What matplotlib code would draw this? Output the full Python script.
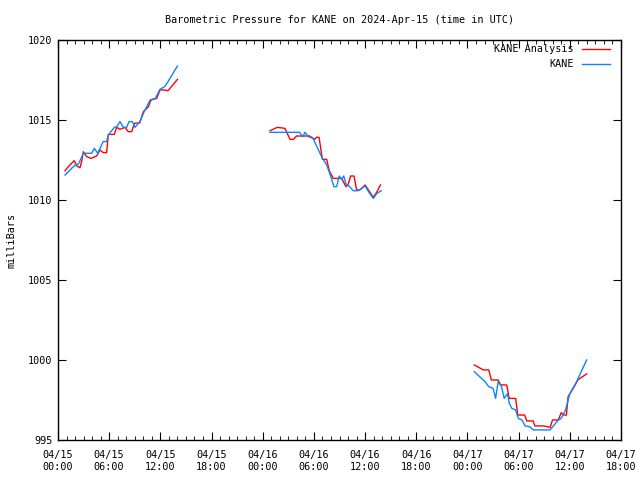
import matplotlib
matplotlib.use("Agg")
import matplotlib.pyplot as plt
import numpy as np

# hours since 2024-04-15 00:00 UTC
kane_t = [0.82, 2.0, 2.4, 2.97, 3.95, 4.26, 4.65, 5.3, 5.7, 5.9, 6.6, 6.88, 7.27, 7.66, 8.05,
          8.32, 8.71, 9.03, 9.6, 10.1, 10.8, 11.4, 11.96, 12.5, 12.9, 14.0,
          None,
          24.85, 28.3, 28.7, 28.95, 29.35, 29.9, 30.9, 31.5, 31.96, 32.35, 32.67, 32.97, 33.25,
          33.5, 33.76, 34.2, 34.6, 35.2, 36.0, 36.4, 36.96, 37.4, 37.9,
          None,
          48.8, 50.06, 50.5, 51.0, 51.3, 51.6, 52.0, 52.3, 52.7, 52.9, 53.2, 53.65, 53.96, 54.4,
          54.75, 55.3, 55.7, 57.7, 58.07, 58.65, 59.0, 59.5, 60.0, 60.8, 61.97]
kane_p = [1011.56, 1012.19, 1012.25, 1012.92, 1012.92, 1013.23, 1012.92, 1013.65, 1013.65,
          1014.06, 1014.54, 1014.58, 1014.9, 1014.54, 1014.54, 1014.9, 1014.9, 1014.54, 1014.9,
          1015.52, 1016.25, 1016.35, 1016.92, 1017.08, 1017.4, 1018.37,
          None,
          1014.23, 1014.23, 1013.96, 1014.23, 1013.96, 1013.85, 1012.71, 1012.19, 1011.5,
          1010.83, 1010.83, 1011.5, 1011.29, 1011.5, 1011.0, 1010.83, 1010.58, 1010.58,
          1010.88, 1010.52, 1010.1, 1010.42, 1010.58,
          None,
          999.27, 998.65, 998.33, 998.23, 997.6, 998.65, 998.33, 997.6, 997.9, 997.29, 996.98,
          996.88, 996.35, 996.25, 995.88, 995.83, 995.63, 995.63, 995.88, 996.25, 996.35,
          996.88, 997.9, 998.65, 1000.0]

anal_t = [0.82, 1.4, 1.9, 2.2, 2.58, 2.77, 2.97, 3.36, 3.87, 4.53, 4.92, 5.3, 5.7, 5.9, 6.6,
          6.88, 7.27, 7.85, 8.25, 8.64, 8.95, 9.6, 10.0, 10.6, 10.9, 11.57, 11.96, 12.35, 12.9, 14.0,
          None,
          24.85, 25.7, 26.6, 27.2, 27.6, 27.97, 29.5, 30.1, 30.3, 30.6, 31.0, 31.5, 31.8, 32.27,
          33.25, 33.76, 34.0, 34.3, 34.7, 35.0, 35.4, 36.0, 36.96, 37.4, 37.8,
          None,
          48.8, 49.86, 50.5, 50.8, 51.6, 51.9, 52.6, 52.9, 53.65, 53.9, 54.7, 54.96, 55.7, 55.9,
          56.9, 57.7, 57.97, 58.65, 59.0, 59.3, 59.6, 59.8, 60.4, 60.97, 61.97]
anal_p = [1011.83, 1012.19, 1012.46, 1012.13, 1012.02, 1012.4, 1013.02, 1012.71, 1012.6,
          1012.75, 1013.13, 1012.96, 1012.96, 1014.1, 1014.1, 1014.54, 1014.42, 1014.54,
          1014.27, 1014.27, 1014.79, 1014.83, 1015.52, 1015.83, 1016.25, 1016.35, 1016.88,
          1016.88, 1016.83, 1017.54,
          None,
          1014.33, 1014.54, 1014.48, 1013.79, 1013.79, 1014.0, 1014.0, 1013.79, 1013.92,
          1013.92, 1012.54, 1012.54, 1011.83, 1011.35, 1011.35, 1010.83, 1010.94, 1011.5,
          1011.5, 1010.63, 1010.63, 1010.94, 1010.17, 1010.52, 1010.94,
          None,
          999.69, 999.38, 999.38, 998.75, 998.75, 998.44, 998.44, 997.6, 997.6, 996.56, 996.56,
          996.19, 996.19, 995.88, 995.88, 995.79, 996.25, 996.25, 996.71, 996.56, 996.56,
          997.71, 998.23, 998.77, 999.13]

tick_hours = list(range(0, 67, 6))
tick_labels = ["04/15\n00:00", "04/15\n06:00", "04/15\n12:00", "04/15\n18:00",
               "04/16\n00:00", "04/16\n06:00", "04/16\n12:00", "04/16\n18:00",
               "04/17\n00:00", "04/17\n06:00", "04/17\n12:00", "04/17\n18:00"]

def to_arr(v):
    return np.array([np.nan if x is None else x for x in v], dtype=float)

plt.rcParams['font.family'] = 'DejaVu Sans Mono'
plt.rcParams['font.size'] = 7.3

fig = plt.figure(figsize=(6.4, 4.8), dpi=100)
ax = fig.add_axes([58/640, 40/480, 563/640, 400/480])

ax.plot(to_arr(anal_t), to_arr(anal_p), color='#ff0000', lw=1, label='KANE Analysis')
ax.plot(to_arr(kane_t), to_arr(kane_p), color='#0a85ff', lw=1, label='KANE')

ax.set_xlim(0, 66)
ax.set_ylim(995, 1020)
ax.set_xticks(tick_hours)
ax.set_xticklabels(tick_labels, linespacing=1.3)
ax.set_xticks(range(0, 67), minor=True)
ax.set_yticks([995, 1000, 1005, 1010, 1015, 1020])
ax.tick_params(which='both', direction='in', top=True, right=True, color='black')
ax.tick_params(which='major', length=6)
ax.tick_params(axis='x', which='major', pad=7)
ax.tick_params(axis='y', which='major', pad=4)
ax.tick_params(which='minor', length=3)
for s in ax.spines.values():
    s.set_linewidth(1)

ax.set_title("Barometric Pressure for KANE on 2024-Apr-15 (time in UTC)", fontsize=7.3, pad=12)
ax.set_ylabel("milliBars")
ax.yaxis.set_label_coords(-46/563, 0.5)
ax.yaxis.label.set_verticalalignment('center')

ax.legend(loc='upper right', bbox_to_anchor=(1 - 7/563, 1), frameon=False, markerfirst=False,
          handlelength=2.8, borderaxespad=0, labelspacing=0.5, handletextpad=0.8)

fig.savefig("out.png", dpi=100)
